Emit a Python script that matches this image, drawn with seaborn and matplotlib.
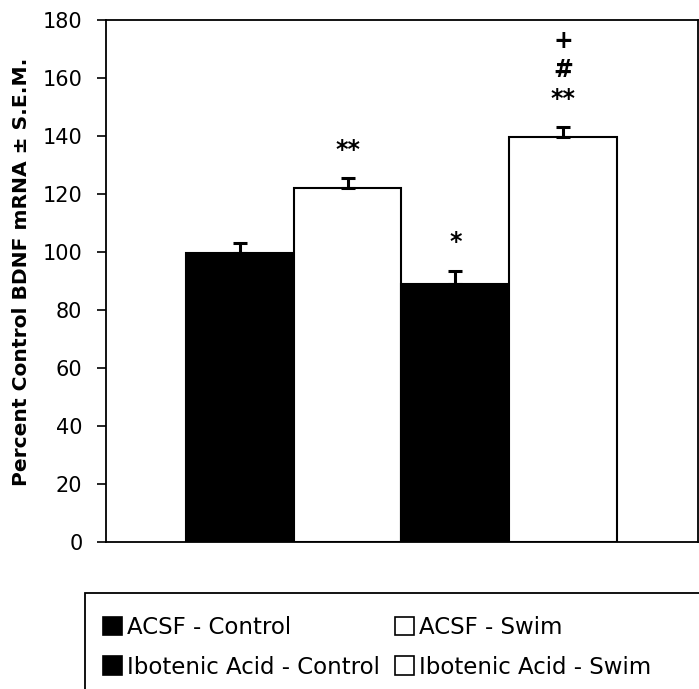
import matplotlib
matplotlib.use("Agg")
import matplotlib.pyplot as plt
from matplotlib.patches import Patch, Rectangle
import seaborn as sns
import pandas as pd

groups = ["ACSF - Control", "ACSF - Swim", "Ibotenic Acid - Control", "Ibotenic Acid - Swim"]
means = [99.5, 122.0, 89.0, 139.5]
sems = [3.5, 3.5, 4.5, 3.5]
bar_colors = ["black", "white", "black", "white"]
marks = [[], ["**"], ["*"], ["**", "#", "+"]]
yticks = [0, 20, 40, 60, 80, 100, 120, 140, 160, 180]
ylabel = "Percent Control BDNF mRNA \u00b1 S.E.M."

sns.set_style("white")
plt.rcParams['font.family'] = ['DejaVu Sans']
plt.rcParams['text.color'] = 'black'

df = pd.DataFrame({"group": groups, "value": means})

W, H = 699, 689
fig = plt.figure(figsize=(W / 100, H / 100), dpi=100)
ax = fig.add_axes([106 / W, 1 - 542 / H, (698 - 106) / W, (542 - 20) / H])

sns.barplot(data=df, x="group", y="value", hue="group", order=groups, hue_order=groups,
            palette=dict(zip(groups, bar_colors)), width=1.0, dodge=False,
            edgecolor="black", linewidth=1.5, legend=False, errorbar=None, ax=ax)

centers = [p.get_x() + p.get_width() / 2 for p in ax.patches]
tops = [p.get_height() for p in ax.patches]
ax.errorbar(centers, tops, yerr=[[0] * len(sems), sems], fmt="none", ecolor="black",
            elinewidth=2.2, capsize=5, capthick=2.2, zorder=5)

for cx, m, s, mk in zip(centers, means, sems, marks):
    for i, sym in enumerate(mk):
        ax.text(cx, m + s + 9.8 + i * 10.0, sym, ha="center", va="center",
                fontsize=17, fontweight="bold", color="black")

ax.set_xlim(-1.242, 4.252)
ax.set_ylim(0, 180)
ax.set_yticks(yticks)
ax.set_yticklabels([str(t) for t in yticks], fontsize=15, color="black")
ax.set_xticks([])
ax.set_xlabel("")
ax.set_ylabel(ylabel, fontsize=14.6, fontweight="bold", color="black")
ax.yaxis.set_label_coords(-0.127, 0.518)
ax.tick_params(axis="y", direction="out", length=6.5, width=1.2, pad=10.5, left=True, color="black")
for sp in ax.spines.values():
    sp.set_visible(True)
    sp.set_color("black")
    sp.set_linewidth(1.3)

# legend box (cropped at figure edges as in the reference)
fig.patches.append(Rectangle((85 / W, -0.1), 1.0, (H - 593) / H + 0.1, transform=fig.transFigure,
                             fill=False, edgecolor="black", linewidth=1.3))
handles = {g: Patch(facecolor=c, edgecolor="black", linewidth=1.2) for g, c in zip(groups, bar_colors)}
order = [groups[0], groups[2], groups[1], groups[3]]
fig.legend([handles[g] for g in order], order, ncol=2, loc="upper left",
           bbox_to_anchor=(103 / W, 1 - 616 / H), frameon=False, fontsize=16.5,
           handlelength=0.85, handleheight=0.85, handletextpad=0.2, columnspacing=0.65,
           labelspacing=0.72, borderpad=0, borderaxespad=0, labelcolor="black")

fig.savefig("out.png", dpi=100, facecolor="white")
